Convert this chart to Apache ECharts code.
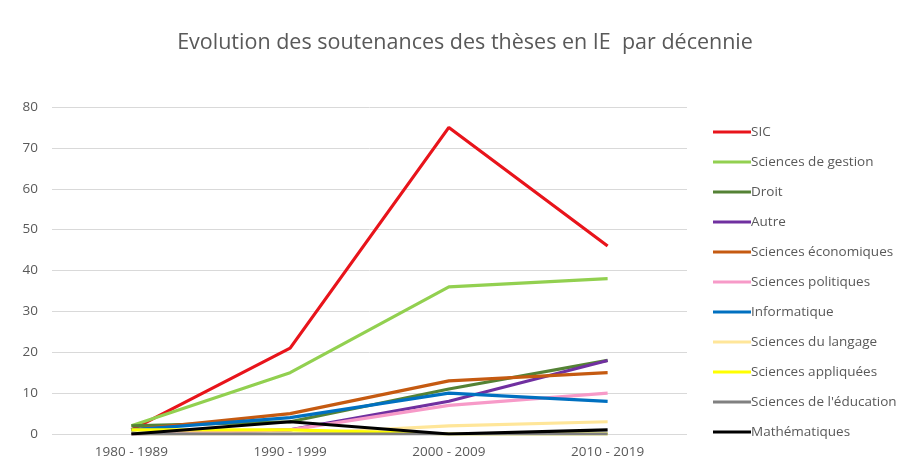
<!DOCTYPE html>
<html><head><meta charset="utf-8">
<script src="https://cdn.jsdelivr.net/npm/echarts@6/dist/echarts.min.js"></script>
<style>html,body{margin:0;padding:0;background:#fff}#c{width:908px;height:470px}</style>
</head><body><div id="c"></div>
<script>
const categories = ['1980 - 1989','1990 - 1999','2000 - 2009','2010 - 2019'];
const seriesNames = ['SIC','Sciences de gestion','Droit','Autre','Sciences économiques','Sciences politiques','Informatique','Sciences du langage','Sciences appliquées',"Sciences de l'éducation",'Mathématiques'];
const sic = [1, 21, 75, 46];
const gestion = [2, 15, 36, 38];
const droit = [2, 3, 11, 18];
const autre = [0, 1, 8, 18];
const economiques = [1, 5, 13, 15];
const politiques = [0, 1, 7, 10];
const informatique = [1, 4, 10, 8];
const langage = [0, 0, 2, 3];
const appliquees = [1, 1, 0, 0];
const education = [0, 0, 0, 0];
const mathematiques = [0, 3, 0, 1];
const values = [sic, gestion, droit, autre, economiques, politiques, informatique, langage, appliquees, education, mathematiques];
const colors = ['#E8141B','#92D050','#548235','#7030A0','#C55A11','#F79AC8','#0070C0','#FFE699','#FFFF00','#808080','#000000'];

const chart = echarts.init(document.getElementById('c'));
chart.setOption({
  animation: false,
  textStyle: { fontFamily: 'Open Sans' },
  title: {
    text: 'Evolution des soutenances des thèses en IE  par décennie',
    left: 460, top: 27, textAlign: 'center',
    textStyle: { fontSize: 21.5, fontWeight: 'normal', color: '#595959', fontFamily: 'Open Sans' }
  },
  legend: {
    orient: 'vertical', left: 708, top: 118,
    icon: 'rect', itemWidth: 38, itemHeight: 3, itemGap: 12,
    data: seriesNames,
    textStyle: { fontSize: 13.5, lineHeight: 18, color: '#595959', padding: [0, 0, 0, -5] }
  },
  grid: { left: 52, right: 221, top: 107, bottom: 36 },
  xAxis: {
    type: 'category', data: categories, boundaryGap: true,
    axisLine: { show: false }, axisTick: { show: false },
    axisLabel: { fontSize: 13.5, color: '#595959', margin: 11 }
  },
  yAxis: {
    type: 'value', min: 0, max: 80, interval: 10,
    axisLabel: { fontSize: 13.5, color: '#595959', margin: 14 },
    splitLine: { lineStyle: { color: '#D9D9D9', width: 1 } }
  },
  series: seriesNames.map((n, i) => ({
    name: n, type: 'line', data: values[i], symbol: 'none',
    lineStyle: { width: 3.2, color: colors[i] }, itemStyle: { color: colors[i] }
  }))
});
</script></body></html>
